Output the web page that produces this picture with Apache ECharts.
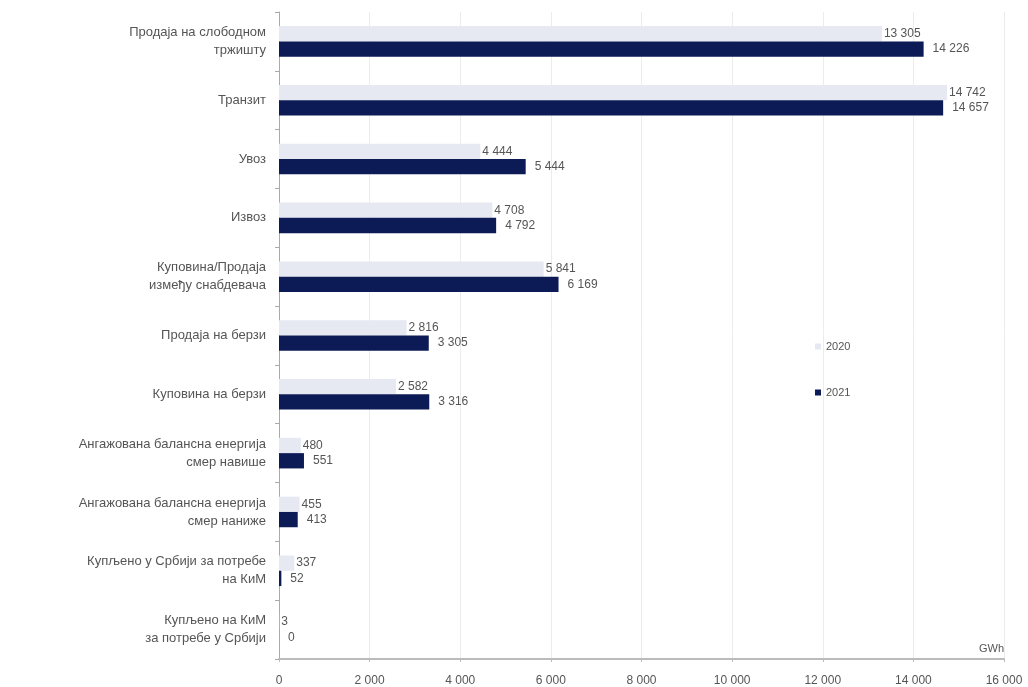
<!DOCTYPE html>
<html>
<head>
<meta charset="utf-8">
<script src="https://cdn.jsdelivr.net/npm/echarts@6/dist/echarts.min.js"></script>
<style>
  html, body { margin: 0; padding: 0; background: #ffffff; }
  #chart { width: 1028px; height: 687px; }
</style>
</head>
<body>
<div id="chart"></div>
<script>
// Electricity market volumes by transaction type, GWh
const categories = [
  'Продаја на слободном\nтржишту',
  'Транзит',
  'Увоз',
  'Извоз',
  'Куповина/Продаја\nизмеђу снабдевача',
  'Продаја на берзи',
  'Куповина на берзи',
  'Ангажована балансна енергија\nсмер навише',
  'Ангажована балансна енергија\nсмер наниже',
  'Купљено у Србији за потребе\nна КиМ',
  'Купљено на КиМ\nза потребе у Србији'
];
const values2020 = [13305, 14742, 4444, 4708, 5841, 2816, 2582, 480, 455, 337, 3];
const values2021 = [14226, 14657, 5444, 4792, 6169, 3305, 3316, 551, 413, 52, 0];
const seriesNames = ['2020', '2021'];

const fmt = v => String(v).replace(/\B(?=(\d{3})+(?!\d))/g, ' ');
const FONT = '"Liberation Sans", Arial, sans-serif';

const chart = echarts.init(document.getElementById('chart'));
chart.setOption({
  animation: false,
  backgroundColor: '#ffffff',
  textStyle: { fontFamily: FONT },
  grid: { left: 279, right: 24, top: 12, bottom: 26, containLabel: false },
  legend: {
    orient: 'vertical',
    left: 810,
    top: 336,
    itemWidth: 6,
    itemHeight: 6,
    itemGap: 35,
    icon: 'rect',
    textStyle: { color: '#555', fontSize: 11, fontFamily: FONT },
    data: seriesNames
  },
  xAxis: {
    type: 'value',
    min: 0,
    max: 16000,
    interval: 2000,
    name: 'GWh',
    nameLocation: 'end',
    nameGap: 0,
    nameTextStyle: {
      color: '#555', fontSize: 11, align: 'right', verticalAlign: 'bottom',
      padding: [0, 0, 5, 0], fontFamily: FONT
    },
    axisLine: { show: true, lineStyle: { color: '#bbb', width: 2 } },
    axisTick: { show: true, length: 3, lineStyle: { color: '#bbb' } },
    axisLabel: {
      color: '#555', fontSize: 12, margin: 16, fontFamily: FONT,
      formatter: v => fmt(v)
    },
    splitLine: { show: true, lineStyle: { color: '#ececec', width: 1 } }
  },
  yAxis: {
    type: 'category',
    inverse: true,
    data: categories,
    axisLine: { show: true, lineStyle: { color: '#aaa' } },
    axisTick: { show: true, length: 4, lineStyle: { color: '#aaa' } },
    axisLabel: {
      color: '#555', fontSize: 13, margin: 13, lineHeight: 18,
      align: 'right', fontFamily: FONT
    }
  },
  series: [
    {
      name: seriesNames[0],
      type: 'bar',
      data: values2020,
      barGap: '0%',
      barCategoryGap: '48%',
      itemStyle: { color: '#e6e9f2' },
      label: {
        show: true, position: 'right', distance: 2,
        color: '#555', fontSize: 12, fontFamily: FONT,
        formatter: p => fmt(p.value)
      }
    },
    {
      name: seriesNames[1],
      type: 'bar',
      data: values2021,
      barGap: '0%',
      barCategoryGap: '48%',
      itemStyle: { color: '#0c1a55' },
      label: {
        show: true, position: 'right', distance: 9,
        color: '#555', fontSize: 12, fontFamily: FONT,
        formatter: p => fmt(p.value)
      }
    }
  ]
});
</script>
</body>
</html>
